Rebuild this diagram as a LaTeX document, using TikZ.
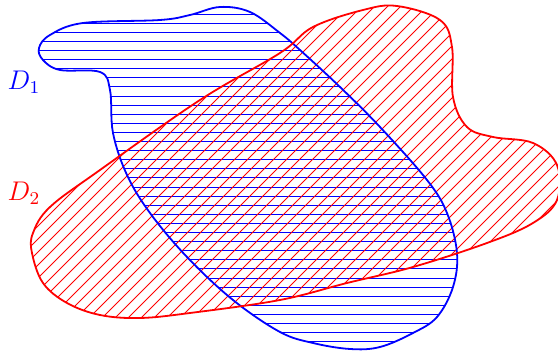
\documentclass[tikz,border=0pt]{standalone}
\usepackage{amsmath,amssymb}
\usepackage{tikz}

% outlines of the two regions (pixel grid, y downwards)
\newcommand{\regionone}{plot[smooth cycle,tension=0.6] coordinates {(39,48) (50,35) (83,23) (160,20) (190,15) (220,7) (250,12) (280,33) (300,50) (340,87) (380,127) (427,180) (447,213) (457,253) (453,287) (437,317) (413,333) (380,347) (350,349) (313,343) (280,332) (233,300) (187,257) (150,213) (127,175) (113,133) (110,90) (100,72) (60,70) (43,60)}}
\newcommand{\regiontwo}{plot[smooth cycle,tension=0.6] coordinates {(397,6) (440,20) (452,47) (453,97) (467,127) (493,137) (533,143) (557,165) (557,200) (533,223) (487,243) (413,267) (347,283) (280,300) (190,313) (140,318) (100,315) (67,303) (43,283) (32,253) (33,233) (50,207) (100,170) (200,100) (280,53) (313,27) (363,10)}}

\begin{document}
\begin{tikzpicture}[x=0.4444pt,y=-0.4444pt,line join=round]
  \useasboundingbox (0,0) rectangle (558,351);
  % hatching of D_1
  \begin{scope}
    \clip \regionone;
    \foreach \y in {0,...,37}
      \draw[blue,line width=0.4pt] (0,14.1+9.1*\y) -- (558,14.1+9.1*\y);
  \end{scope}
  % hatching of D_2
  \begin{scope}
    \clip \regiontwo;
    \foreach \c in {0,...,72}
      \draw[red,line width=0.35pt] (-360+13*\c,351) -- (-9+13*\c,0);
  \end{scope}
  \draw[blue,thick] \regionone;
  \draw[red,thick] \regiontwo;
  \node[blue,font=\large] (labelA) at (24,82) {\(D_1\)};
  \node[red,font=\large] (labelB) at (24,193) {\(D_2\)};
\end{tikzpicture}
\end{document}
